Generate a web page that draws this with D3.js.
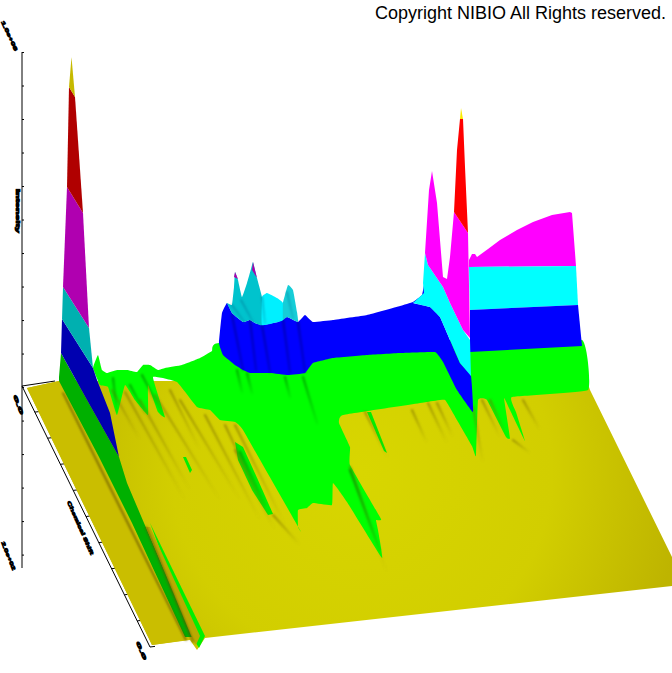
<!DOCTYPE html>
<html><head><meta charset="utf-8">
<script src="https://cdn.jsdelivr.net/npm/d3@7"></script>
<style>html,body{margin:0;padding:0;background:#fff}svg{display:block}</style>
</head><body><svg id="c" width="672" height="673"></svg>
<script>
// Readings as [position along the spectrum, level above the axis origin]
const planeBase=[[5,-1],[37,6],[565,6],[568,-3],[650,-170],[650,-199],[183,-251],[175,-263],[168,-253],[130,-258]];
const planeLeft=[[5,-1],[37,6],[165,-253],[130,-258]];
const greenBand=[[71,19],[76,32],[80,17],[85,14],[95,17],[105,17],[115,15],[121,22],[128,22],[136,17],[143,19],[160,22],[178,29],[190,36],[197,44],[378,47],[448,47],[560,47],[566,-3],[490,-10],[494,-25],[503,-54],[488,-23],[482,-11],[488,-51],[484,-50],[465,-13],[456,-13],[454,-69],[450,-59],[435,-33],[423,-13],[405,-15],[321,-28],[317,-36],[328,-60],[328,-78],[359,-132],[354,-133],[356,-143],[360,-171],[325,-115],[311,-96],[310,-118],[291,-116],[285,-121],[276,-123],[276,-140],[278,-143],[221,-43],[213,-35],[198,-33],[188,-23],[175,-20],[155,5],[131,10],[143,-30],[136,-25],[126,2],[126,-28],[113,-13],[103,2],[95,-28],[86,0],[78,2]];
const islandA=[[213,-55],[221,-60],[236,-93],[251,-127],[246,-128],[230,-103],[216,-73]];
const islandB=[[161,-70],[164,-70],[170,-83],[168,-86]];
const islandC=[[345,-25],[349,-25],[365,-66],[362,-64]];
const blueBand=[[197,44],[200,74],[205,84],[210,74],[221,65],[228,67],[233,64],[240,62],[256,65],[265,70],[276,65],[283,72],[291,65],[311,67],[345,72],[378,81],[391,85],[400,92],[402,102],[402,87],[391,84],[408,80],[418,70],[428,47],[438,24],[449,11],[451,-25],[435,-3],[421,25],[413,35],[378,34],[345,32],[311,29],[291,24],[283,14],[266,12],[248,14],[228,14],[221,17],[213,22],[201,32]];
const humpDark=[[205,84],[210,82],[212,100],[213,115],[216,107],[220,90],[225,104],[229,118],[231,125],[235,109],[240,90],[240,62],[233,64],[228,67],[221,65],[210,74]];
const humpBright=[[240,90],[245,94],[255,89],[261,84],[261,67],[256,65],[240,62]];
const humpRight=[[261,84],[266,102],[271,97],[275,75],[276,65],[265,70],[261,67]];
const humpTipA=[[213,115],[216,108],[212,110]];
const humpTipB=[[231,125],[235,109],[230,117]];
const peakCyan=[[391,84],[402,94],[401,104],[403,134],[406,122],[421,100],[428,84],[441,57],[448,47],[449,11],[438,24],[428,47],[418,70],[408,80]];
const peakMagenta=[[403,134],[407,197],[410,216],[415,184],[421,110],[425,108],[428,130],[432,175],[446,154],[448,49],[441,57],[428,84],[421,100],[406,122]];
const peakRed=[[432,175],[435,237],[438,268],[441,268],[443,220],[446,154]];
const peakTip=[[439,279],[441,268],[438,268]];
const wallMagenta=[[447,120],[447,127],[450,133],[453,133],[455,130],[466,138],[478,147],[495,157],[511,165],[530,172],[548,175],[550,174],[554,121]];
const wallCyan=[[447,120],[554,121],[556,82],[448,77]];
const wallBlue=[[448,77],[556,82],[560,41],[448,35]];
const spikeTip=[[49.5,330],[53,290],[47,300]];
const spikeRed=[[47,300],[53,290],[61,174],[45,200]];
const spikeMagenta=[[45,200],[61,174],[67,59],[41,100]];
const spikeCyan=[[41,100],[67,59],[71,19],[40,68]];
const spikeBlue=[[40,68],[71,19],[75,7],[88,-26],[97,-70],[65,-13],[39,34]];
const spikeGreen=[[39,34],[65,-13],[97,-70],[105,-96],[122,-136],[171,-250],[163,-250],[110,-136],[77,-70],[37,6],[37,10]];
const stripGreen=[[128,-136],[183,-249],[177,-261],[172,-253]];
const stripOlive=[[124,-140],[128,-140],[178,-249],[174,-258],[170,-251]];
const brownLines=[[41,-6,164,-253],[124,-140,171,-255]];
const oliveStreaks=[[90,-3,118,-53],[103,-5,163,-113],[118,-13,168,-103],[133,-8,198,-113],[148,-3,178,-63],[158,-13,218,-113],[183,-28,238,-133],[203,-38,248,-133],[213,-63,253,-143],[213,-38,263,-138],[251,-128,278,-158],[343,-25,366,-71],[390,-23,405,-56],[406,-16,425,-56],[415,-16,431,-50],[451,-20,461,-76],[460,-13,478,-50],[468,-13,485,-50],[491,-53,508,-66],[501,-13,518,-43],[328,-80,365,-186]];
const greenStreaks=[[215,17,220,-5],[225,14,230,-6],[263,10,268,-10],[281,10,295,-36],[120,12,141,-28],[108,2,123,-26],[91,9,95,-25],[328,-83,358,-163],[218,-65,243,-118]];
const blueStreaks=[[210,72,221,17],[228,67,234,17],[240,62,248,15],[261,67,268,15],[276,65,283,15]];
const tealStreaks=[[210,82,223,64],[219,87,231,65],[240,90,243,64],[265,95,271,69]];
const levelTicks=[-5,-4,-3,-2,-1,0,1,2,3,4,5,6,7,8,9,10];
const depthTicks=[1,2,3,4,5,6,7,8,9,10];
const copyright="Copyright NIBIO All Rights reserved.";
const axisTexts=["1.0e+08","Intensity","0.0","2.0e+02","Chemical Shift","0.0"];

const svg=d3.select("#c");
const W=672,H=673;
const x=d3.scaleLinear().domain([-22,650]).range([0,W]);
const y=d3.scaleLinear().domain([-286,387]).range([H,0]);
const pathOf=d3.line().x(d=>x(d[0])).y(d=>y(d[1])).curve(d3.curveLinearClosed);
const smoothOf=d3.line().x(d=>x(d[0])).y(d=>y(d[1])).curve(d3.curveCardinalClosed.tension(.72));

const defs=svg.append("defs");
const grad=defs.append("radialGradient").attr("id","plane").attr("gradientUnits","userSpaceOnUse")
  .attr("cx",x(340)).attr("cy",y(-85)).attr("r",380);
grad.append("stop").attr("offset",0).attr("stop-color","rgb(216,214,0)");
grad.append("stop").attr("offset",.5).attr("stop-color","rgb(210,206,0)");
grad.append("stop").attr("offset",.85).attr("stop-color","rgb(190,180,0)");
defs.append("filter").attr("id","soft").attr("x","-30%").attr("y","-30%").attr("width","160%").attr("height","160%")
  .append("feGaussianBlur").attr("stdDeviation",1);
defs.append("filter").attr("id","edge").append("feGaussianBlur").attr("stdDeviation",.35);

function poly(d,fill,smooth){svg.append("path").attr("d",(smooth?smoothOf:pathOf)(d)).attr("fill",fill).attr("filter","url(#edge)");}
let gid=0;
function streaks(d,color,width,op,endOp){
  const g=svg.append("g").attr("filter","url(#soft)");
  d.forEach(s=>{
    const id="s"+(gid++);
    const lg=defs.append("linearGradient").attr("id",id).attr("gradientUnits","userSpaceOnUse")
      .attr("x1",x(s[0])).attr("y1",y(s[1])).attr("x2",x(s[2])).attr("y2",y(s[3]));
    lg.append("stop").attr("offset",0).attr("stop-color",color).attr("stop-opacity",op);
    lg.append("stop").attr("offset",1).attr("stop-color",color).attr("stop-opacity",endOp);
    g.append("line").attr("x1",x(s[0])).attr("y1",y(s[1])).attr("x2",x(s[2])).attr("y2",y(s[3]))
      .attr("stroke",`url(#${id})`).attr("stroke-width",width).attr("stroke-linecap","round");
  });
}

// Axes
const level=d3.scaleLinear().domain([-5.4,10]).range([y(-181),y(335)]);
const zAxis=d3.axisRight(level).tickValues(levelTicks).tickSize(2).tickFormat("");
svg.append("g").attr("transform",`translate(${x(0)},0)`).call(zAxis)
  .call(g=>g.select(".domain").attr("d",`M0,${level.range()[1]}V${level.range()[0]}`).attr("stroke","#000"))
  .call(g=>g.selectAll("line").attr("stroke","#000"));
const depth=d3.scaleLinear().domain([0,10]);
const dx=depth.copy().range([x(0),x(128)]), dy=depth.copy().range([y(1),y(-260)]);
const axisG=svg.append("g").attr("stroke","#000").attr("stroke-width",1).attr("fill","none");
axisG.append("line").attr("x1",dx(0)).attr("y1",dy(0)).attr("x2",dx(10)).attr("y2",dy(10));
axisG.append("line").attr("x1",x(0)).attr("y1",y(1)).attr("x2",x(33)).attr("y2",y(6));
axisG.selectAll("line.t").data(depthTicks).join("line").attr("class","t")
  .attr("x1",d=>dx(d)).attr("y1",d=>dy(d)).attr("x2",d=>dx(d)+5).attr("y2",d=>dy(d)-.6);

// Surface
poly(planeBase,"url(#plane)");
poly(planeLeft,"rgb(202,190,6)");
poly(greenBand,"rgb(0,255,0)",true);
[islandA,islandB,islandC].forEach(d=>poly(d,"rgb(0,240,0)"));
streaks(oliveStreaks,"rgb(120,105,0)",2,.6,0);
streaks(greenStreaks,"rgb(0,150,0)",2.2,.8,.15);
poly(blueBand,"rgb(0,0,255)",true);
streaks(blueStreaks,"rgb(0,0,130)",2.2,.55,.35);
poly(humpDark,"rgb(0,195,205)",true);
poly(humpBright,"rgb(0,240,255)",true);
poly(humpRight,"rgb(20,205,215)",true);
streaks(tealStreaks,"rgb(0,120,150)",1.6,.6,.3);
poly(humpTipA,"rgb(170,0,170)");
poly(humpTipB,"rgb(170,0,170)");
poly(wallMagenta,"rgb(255,0,255)");
poly(wallCyan,"rgb(0,255,255)");
poly(wallBlue,"rgb(0,0,255)");
poly(peakCyan,"rgb(0,255,255)");
poly(peakMagenta,"rgb(255,0,255)");
poly(peakRed,"rgb(255,0,0)");
poly(peakTip,"rgb(250,235,0)");
poly(spikeGreen,"rgb(0,176,0)");
poly(spikeBlue,"rgb(0,0,176)");
poly(spikeCyan,"rgb(0,176,176)");
poly(spikeMagenta,"rgb(176,0,176)");
poly(spikeRed,"rgb(176,0,0)");
poly(spikeTip,"rgb(198,186,0)");
poly(stripGreen,"rgb(0,240,0)");
poly(stripOlive,"rgb(185,170,0)");
streaks(brownLines,"rgb(95,75,0)",1.6,.85,.85);

// Text
svg.append("text").attr("x",x(353)).attr("y",y(368)).attr("font-family","Liberation Sans, Arial, sans-serif")
  .attr("font-size",18).attr("fill","#000").text(copyright);
const labelSpots=[[-13,351,65,32],[-5,176,90,44],[-4,-18,70,20],[-14,-169,68,30],[58,-141,66,58],[119,-264,66,19]];
svg.selectAll("text.a").data(axisTexts).join("text").attr("class","a")
  .attr("transform",(d,i)=>`translate(${x(labelSpots[i][0])},${y(labelSpots[i][1])}) rotate(${labelSpots[i][2]})`)
  .attr("text-anchor","middle").attr("dominant-baseline","middle")
  .attr("font-family","Liberation Sans, Arial, sans-serif").attr("font-size",5).attr("font-weight","bold")
  .attr("stroke","#000").attr("stroke-width",.8).attr("fill","#000")
  .attr("textLength",(d,i)=>labelSpots[i][3]).attr("lengthAdjust","spacingAndGlyphs").text(d=>d);
</script></body></html>
